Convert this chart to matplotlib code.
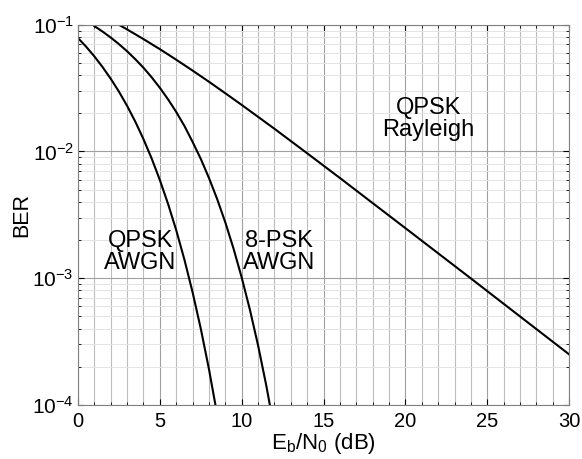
import numpy as np
import matplotlib
matplotlib.use("Agg")
from matplotlib import pyplot as plt
from matplotlib.ticker import LogLocator, MultipleLocator

plt.rcParams['font.family'] = ['Liberation Sans', 'DejaVu Sans']
plt.rcParams['mathtext.fontset'] = 'custom'
plt.rcParams['mathtext.rm'] = 'Liberation Sans'
plt.rcParams['mathtext.it'] = 'Liberation Sans'

# Values
qpsk_awgn_snr = [0, 0.5, 1, 1.5, 2, 2.5, 3, 3.5, 4, 4.5, 5, 5.5, 6, 6.5, 7, 7.5, 8, 8.5, 9]
qpsk_awgn_ber = [7.86e-2, 6.71e-2, 5.63e-2, 4.64e-2, 3.75e-2, 2.97e-2, 2.29e-2, 1.72e-2,
                 1.25e-2, 8.80e-3, 5.95e-3, 3.86e-3, 2.39e-3, 1.40e-3, 7.73e-4, 3.99e-4,
                 1.91e-4, 8.39e-5, 3.36e-5]

psk8_awgn_snr = [1, 1.5, 2, 2.5, 3, 3.5, 4, 4.5, 5, 5.5, 6, 6.5, 7, 7.5, 8, 8.5, 9,
                 9.5, 10, 10.5, 11, 11.5, 12]
psk8_awgn_ber = [9.77e-2, 8.84e-2, 7.93e-2, 7.04e-2, 6.18e-2, 5.35e-2, 4.58e-2, 3.85e-2,
                 3.18e-2, 2.58e-2, 2.05e-2, 1.59e-2, 1.19e-2, 8.74e-3, 6.17e-3, 4.21e-3,
                 2.75e-3, 1.71e-3, 1.01e-3, 5.63e-4, 2.94e-4, 1.42e-4, 6.33e-5]

qpsk_ray_snr = [2.5, 3, 4, 5, 6, 7, 8, 9, 10, 12, 14, 16, 18, 20, 22, 24, 26, 28, 30]
qpsk_ray_ber = [1.00e-1, 9.19e-2, 7.71e-2, 6.42e-2, 5.30e-2, 4.35e-2, 3.55e-2, 2.88e-2,
                2.33e-2, 1.51e-2, 9.67e-3, 6.17e-3, 3.91e-3, 2.48e-3, 1.57e-3, 9.94e-4,
                6.27e-4, 3.96e-4, 2.50e-4]

fig = plt.figure(figsize=(5.82, 4.59), dpi=100)
ax = fig.add_axes([0.134, 0.118, 0.844, 0.828])

ax.semilogy(qpsk_awgn_snr, qpsk_awgn_ber, 'k-', lw=1.5)
ax.semilogy(psk8_awgn_snr, psk8_awgn_ber, 'k-', lw=1.5)
ax.semilogy(qpsk_ray_snr, qpsk_ray_ber, 'k-', lw=1.5)

ax.set_xlim(0, 30)
ax.set_ylim(1e-4, 1e-1)
ax.xaxis.set_major_locator(MultipleLocator(5))
ax.xaxis.set_minor_locator(MultipleLocator(1))
ax.yaxis.set_major_locator(LogLocator(base=10))
ax.yaxis.set_minor_locator(LogLocator(base=10, subs=np.arange(2, 10)))

ax.grid(which='major', color='#a0a0a0', lw=0.8)
ax.grid(which='minor', axis='x', color='#bdbdbd', lw=0.8)
ax.grid(which='minor', axis='y', color='#e4e4e4', lw=0.7)

ax.tick_params(which='both', direction='in', top=True, right=True)
ax.tick_params(axis='x', labelsize=14.5, pad=5)
ax.tick_params(axis='y', labelsize=15, pad=3)
ax.tick_params(which='major', length=4)
ax.tick_params(which='minor', length=2.5)
for sp in ax.spines.values():
    sp.set_color('#808080')

ax.set_xlabel('$\\mathregular{E_b/N_0}$ (dB)', fontsize=16, labelpad=0)
ax.set_ylabel('BER', fontsize=15.5, labelpad=0)

ax.text(3.8, 1.6e-3, 'QPSK\nAWGN', fontsize=17, ha='center', va='center', linespacing=1.0)
ax.text(12.3, 1.6e-3, '8-PSK\nAWGN', fontsize=17, ha='center', va='center', linespacing=1.0)
ax.text(21.4, 1.8e-2, 'QPSK\nRayleigh', fontsize=17, ha='center', va='center', linespacing=1.0)

plt.savefig('out.png', dpi=100)
plt.close()
